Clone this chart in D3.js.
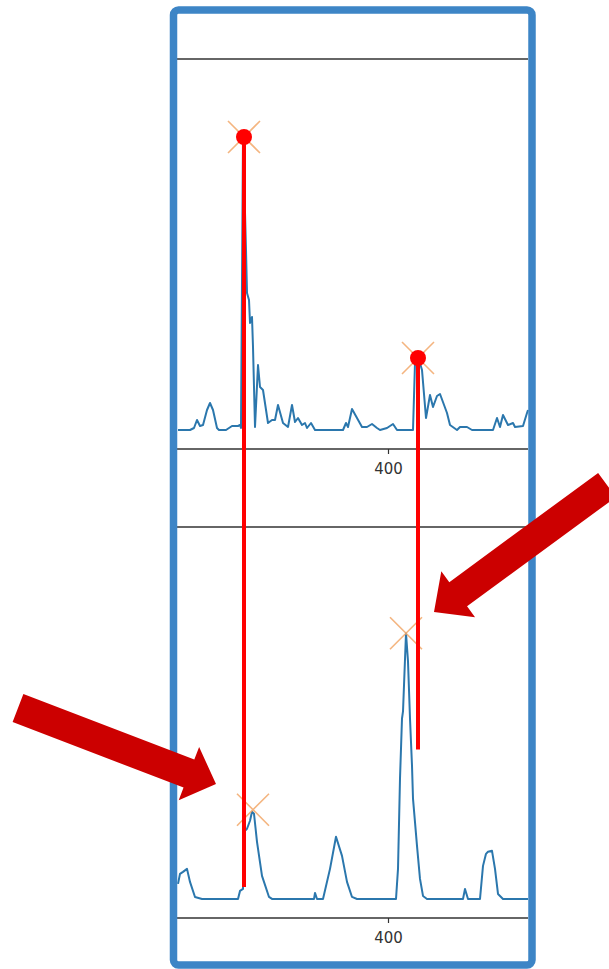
<!DOCTYPE html>
<html><head><meta charset="utf-8">
<script src="https://cdn.jsdelivr.net/npm/d3@7"></script>
<style>body{margin:0;background:#fff} svg{display:block}</style>
</head><body>
<script>
// ---- data ----
const topShift = [190,202,206,209,212,215,219,222,225,229,231,238,244,250,252,253,255,258,259,261,262,264,265,267,270,272,275,280,284,287,290,295,300,304,307,310,314,317,319,323,327,355,358,360,364,369,374,379,384,389,392,399,405,409,425,427,431,434,438,442,445,449,452,459,462,469,472,479,484,505,509,512,515,520,525,527,535,539,540];
const topIntensity = [0,0,2,10,4,5,20,27,20,2,0,0,4,4,5,2,293,180,137,130,107,113,83,3,65,43,40,7,10,10,25,7,3,25,8,12,5,7,2,7,0,0,7,3,21,12,3,3,6,2,0,2,6,0,0,67,70,60,12,35,23,34,36,17,5,0,3,3,0,0,12,3,15,5,7,3,4,17,20];
const bottomShift = [190,192,195,199,202,207,214,250,252,255,256,259,262,264,266,269,274,281,284,326,327,329,335,342,348,354,359,364,369,408,410,412,414,415,418,420,422,424,425,429,432,435,439,475,477,480,492,495,498,500,504,507,510,515,540];
const bottomIntensity = [15,25,27,30,17,2,0,0,8,10,67,70,78,87,85,57,23,2,0,0,6,0,0,30,62,43,17,2,0,0,30,120,180,187,265,237,180,133,100,53,20,3,0,0,10,0,0,33,45,47,48,30,5,0,0];
// picked peaks (red dots) in the upper panel and X marks
const topPeakShift = [256, 430];
const topPeakIntensity = [293, 72];
const bottomMarkShift = [265, 418];
const bottomMarkIntensity = [89, 265];
// red connector lines end in lower panel at these intensities
const connectorEnd = [12, 149];
const xDomain = [189, 540];
const yDomain = [-19, 371];
const xTicks = [400];

// ---- layout ----
const W = 609, H = 969;
const L = 177, R = 528;
const topPanel = {y0: 59, y1: 449};
const botPanel = {y0: 527, y1: 918};

const svg = d3.select("body").append("svg").attr("width", W).attr("height", H);

const x = d3.scaleLinear().domain(xDomain).range([L, R]);
const yTop = d3.scaleLinear().domain(yDomain).range([topPanel.y1, topPanel.y0]);
const yBot = d3.scaleLinear().domain(yDomain).range([botPanel.y1, botPanel.y0]);

function panel(p, yScale, xs, ys) {
  const g = svg.append("g");
  // top spine
  g.append("line").attr("x1", L).attr("x2", R).attr("y1", p.y0).attr("y2", p.y0)
    .attr("stroke", "#333").attr("stroke-width", 1.3);
  const ax = g.append("g").attr("transform", `translate(0,${p.y1})`)
    .call(d3.axisBottom(x).tickValues(xTicks).tickSize(5).tickPadding(9).tickFormat(d3.format("d")));
  ax.select(".domain").attr("stroke", "#333").attr("stroke-width", 1.3).attr("d", `M${L},0H${R}`);
  ax.selectAll(".tick line").attr("stroke", "#333").attr("stroke-width", 1.2);
  ax.selectAll(".tick text").attr("fill", "#333").style("font-family", "DejaVu Sans").style("font-size", "15px");
  const line = d3.line().x((d, i) => x(xs[i])).y((d, i) => yScale(ys[i]));
  g.append("path").datum(xs).attr("d", line).attr("fill", "none")
    .attr("stroke", "#2b77ad").attr("stroke-width", 2).attr("stroke-linejoin", "round");
}
panel(topPanel, yTop, topShift, topIntensity);
panel(botPanel, yBot, bottomShift, bottomIntensity);

// X markers
function xMark(cx, cy) {
  const s = 16;
  svg.append("path").attr("d", `M${cx - s},${cy - s}L${cx + s},${cy + s}M${cx - s},${cy + s}L${cx + s},${cy - s}`)
    .attr("stroke", "#f2a86a").attr("stroke-opacity", 0.85).attr("stroke-width", 1.6).attr("fill", "none");
}
topPeakShift.forEach((s, i) => xMark(x(s), yTop(topPeakIntensity[i])));
bottomMarkShift.forEach((s, i) => xMark(x(s), yBot(bottomMarkIntensity[i])));

// red connector lines
topPeakShift.forEach((s, i) => {
  svg.append("line").attr("x1", x(s)).attr("x2", x(s))
    .attr("y1", yTop(topPeakIntensity[i])).attr("y2", yBot(connectorEnd[i]))
    .attr("stroke", "#ff0000").attr("stroke-width", 4);
});
// red dots
topPeakShift.forEach((s, i) => {
  svg.append("circle").attr("cx", x(s)).attr("cy", yTop(topPeakIntensity[i])).attr("r", 8).attr("fill", "#ff0000");
});

// blue frame
svg.append("rect").attr("x", 173.5).attr("y", 10).attr("width", 358.5).attr("height", 955)
  .attr("rx", 5).attr("fill", "none").attr("stroke", "#3d85c6").attr("stroke-width", 7.5);

// red arrows
function arrow(tail, tip, shaftW, headW, headL) {
  const dx = tip[0] - tail[0], dy = tip[1] - tail[1];
  const len = Math.hypot(dx, dy), ux = dx / len, uy = dy / len, px = -uy, py = ux;
  const bx = tip[0] - ux * headL, by = tip[1] - uy * headL;
  const pts = [
    [tail[0] + px * shaftW / 2, tail[1] + py * shaftW / 2],
    [bx + px * shaftW / 2, by + py * shaftW / 2],
    [bx + px * headW / 2, by + py * headW / 2],
    tip,
    [bx - px * headW / 2, by - py * headW / 2],
    [bx - px * shaftW / 2, by - py * shaftW / 2],
    [tail[0] - px * shaftW / 2, tail[1] - py * shaftW / 2]
  ];
  svg.append("polygon").attr("points", pts.map(p => p.join(",")).join(" ")).attr("fill", "#cc0000");
}
arrow([18, 708], [216, 784], 30, 57, 29);
arrow([607, 485], [434, 612], 30, 57, 30);
</script>
</body></html>
